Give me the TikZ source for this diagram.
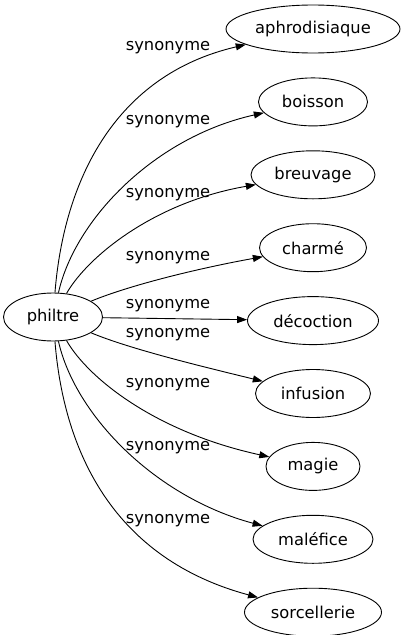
\documentclass[tikz,border=0pt]{standalone}
\usepackage{fontspec}
\setmainfont{DejaVu Sans}
\usetikzlibrary{shapes, arrows.meta, positioning}
\tikzstyle{mot} = [draw, ellipse, minimum height=48pt, inner sep=0pt, line width=0.9pt]
\tikzstyle{relation} = [inner sep=0pt]
\tikzstyle{fleche} = [draw, line width=0.9pt, -{Triangle[length=10pt, width=7pt]}]

\begin{document}
\begin{tikzpicture}[x=1pt, y=-1pt, font=\fontsize{16.3}{19}\selectfont]
	\useasboundingbox (0,0) rectangle (406,635);
	% mot de depart
	\node [mot, minimum width=99pt] (philtre) at (53,317) {philtre};
	% synonymes
	\node [mot, minimum width=174pt] (aphro) at (313,29) {aphrodisiaque};
	\node [mot, minimum width=109pt, below=24pt of aphro] (boisson) {boisson};
	\node [mot, minimum width=124pt, below=24pt of boisson] (breuvage) {breuvage};
	\node [mot, minimum width=107pt, below=24pt of breuvage] (charme) {charmé};
	\node [mot, minimum width=131pt, below=24pt of charme] (decoction) {décoction};
	\node [mot, minimum width=115pt, below=24pt of decoction] (infusion) {infusion};
	\node [mot, minimum width=94pt, below=24pt of infusion] (magie) {magie};
	\node [mot, minimum width=120pt, below=24pt of magie] (malefice) {maléfice};
	\node [mot, minimum width=137pt, below=24pt of malefice] (sorcellerie) {sorcellerie};
	% etiquettes
	\node [relation] (l-aphro) at (168,48) {synonyme};
	\node [relation] (l-boisson) at (168,122) {synonyme};
	\node [relation] (l-breuvage) at (168,195) {synonyme};
	\node [relation] (l-charme) at (168,258) {synonyme};
	\node [relation] (l-decoction) at (168,306) {synonyme};
	\node [relation] (l-infusion) at (168,335) {synonyme};
	\node [relation] (l-magie) at (168,385) {synonyme};
	\node [relation] (l-malefice) at (168,448) {synonyme};
	\node [relation] (l-sorcellerie) at (168,521) {synonyme};
	% fleches
	\draw [fleche] (philtre) .. controls (64,180) and (115,75) .. (aphro);
	\draw [fleche] (philtre) .. controls (75,219) and (155,137) .. (boisson);
	\draw [fleche] (philtre) .. controls (88,256) and (155,202) .. (breuvage);
	\draw [fleche] (philtre) .. controls (130,285) and (200,268) .. (charme);
	\draw [fleche] (philtre) -- (decoction);
	\draw [fleche] (philtre) .. controls (130,349) and (200,366) .. (infusion);
	\draw [fleche] (philtre) .. controls (88,378) and (155,432) .. (magie);
	\draw [fleche] (philtre) .. controls (75,415) and (155,497) .. (malefice);
	\draw [fleche] (philtre) .. controls (64,454) and (115,559) .. (sorcellerie);
\end{tikzpicture}
\end{document}
